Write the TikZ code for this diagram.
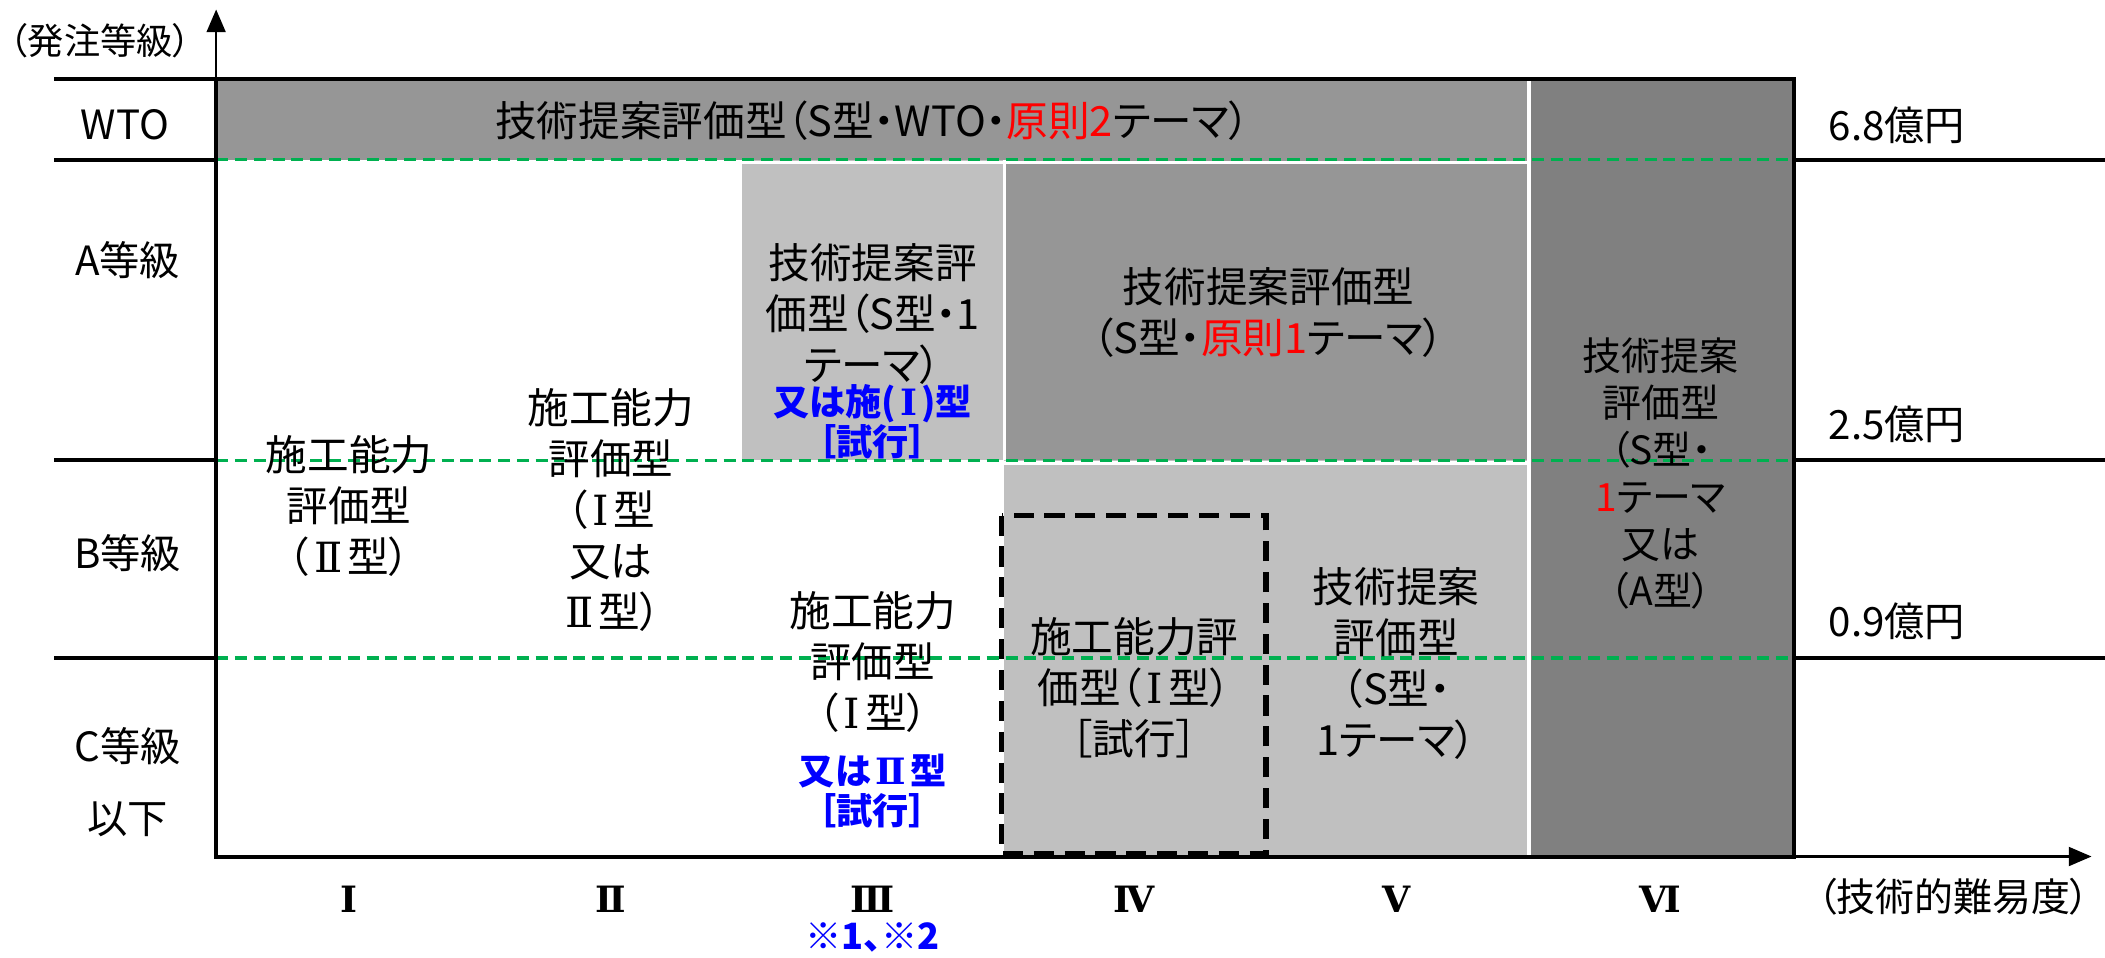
\documentclass[tikz,border=0pt]{standalone}
\usepackage{fontspec}
\setmainfont{Noto Sans CJK JP}[RawFeature=+palt]
\newfontfamily\romanfont{DejaVu Serif}
\newcommand{\rn}[1]{\hspace{0.12em}{\romanfont #1}\hspace{0.12em}}
\usetikzlibrary{arrows.meta}
\definecolor{gmid}{HTML}{969696}
\definecolor{glight}{HTML}{C0C0C0}
\definecolor{gdark}{HTML}{808080}
\definecolor{dgreen}{HTML}{00B050}
\definecolor{bl}{HTML}{0000FF}
\definecolor{rd}{HTML}{FF0000}
\begin{document}
\begin{tikzpicture}[x=1pt,y=-1pt,
  txt/.style={font=\fontsize{31}{38}\selectfont, align=center, inner sep=0pt},
  txtsix/.style={font=\fontsize{29}{35}\selectfont, align=center, inner sep=0pt},
  bt/.style={font=\bfseries\fontsize{27}{30}\selectfont, text=bl, align=center, inner sep=0pt},
  lbl/.style={font=\fontsize{30}{36}\selectfont, inner sep=0pt},
  numlbl/.style={font=\romanfont\bfseries\fontsize{27}{30}\selectfont, inner sep=0pt},
  frame/.style={line width=3pt, line cap=rect},
  axisline/.style={line width=2pt, -{Triangle[length=17pt,width=14pt]}},
  gdash/.style={draw=dgreen, line width=2.5pt, dash pattern=on 9pt off 5pt},
  sep/.style={draw=white, line width=2.5pt},
  trial/.style={draw=black, line width=4pt, dash pattern=on 15pt off 8pt}
]
\useasboundingbox (0,0) rectangle (1568,713);
% fills
\fill[gmid]   (161,59)  rectangle (1139,119);
\fill[glight] (553,119) rectangle (748,343);
\fill[gmid]   (748,119) rectangle (1139,343);
\fill[glight] (748,343) rectangle (1139,638);
\fill[gdark]  (1139,59) rectangle (1336,638);
% white separators
\draw[sep] (1139,59) -- (1139,638);
\draw[sep] (748,119) -- (748,343);
\draw[sep] (161,121) -- (1139,121);
\draw[sep] (553,345) -- (1139,345);
% green dashed level lines
\draw[gdash] (161,119) -- (1336,119);
\draw[gdash] (161,343) -- (1336,343);
\draw[gdash] (161,490) -- (1336,490);
% trial box
\draw[trial] (746,384) rectangle (943,636);
% frame and row lines
\draw[frame] (42,59) -- (1336,59) -- (1336,638);
\draw[frame] (161,638) -- (1336,638);
\draw[frame] (161,59) -- (161,638);
\draw[frame] (42,119) -- (161,119);
\draw[frame] (42,343) -- (161,343);
\draw[frame] (42,490) -- (161,490);
\draw[frame] (1336,119) -- (1568,119);
\draw[frame] (1336,343) -- (1568,343);
\draw[frame] (1336,490) -- (1568,490);
% axes
\coordinate (O) at (161,638);
\coordinate (ytip) at (161,7);
\coordinate (xtip) at (1558,638);
\draw[axisline] (O) -- (ytip);
\draw[axisline] (O) -- (xtip);
% axis titles
\node[lbl, font=\fontsize{27}{30}\selectfont, anchor=west] (ytitle) at (7,30) {（発注等級）};
\node[lbl, font=\fontsize{29}{30}\selectfont] (xtitle) at (1455,668) {（技術的難易度）};
% row labels
\node[lbl] (rwto) at (93,93) {WTO};
\node[lbl] (ra) at (95,194) {A等級};
\node[lbl] (rb) at (95,412) {B等級};
\node[lbl] (rc) at (95,556) {C等級};
\node[lbl] (rc2) at (95,610) {以下};
% amount labels
\node[lbl, anchor=west] (m68) at (1362,93) {6.8億円};
\node[lbl, anchor=west] (m25) at (1362,316) {2.5億円};
\node[lbl, anchor=west] (m09) at (1362,463) {0.9億円};
% column labels
\node[numlbl] (c1) at (260,670) {Ⅰ};
\node[numlbl] (c2) at (455,670) {Ⅱ};
\node[numlbl] (c3) at (650,670) {Ⅲ};
\node[numlbl] (c4) at (845,670) {Ⅳ};
\node[numlbl] (c5) at (1040,670) {Ⅴ};
\node[numlbl] (c6) at (1237,670) {Ⅵ};
\node[bt] (note) at (650,698) {※1、※2};
% cell texts
\node[txt] (twto) at (650,90) {技術提案評価型（S型・WTO・{\color{rd}原則2}テーマ）};
\node[txt] (t3a) at (650,234) {技術提案評\\価型（S型・1\\テーマ）};
\node[bt] (t3ab) at (650,314) {又は施(\rn{Ⅰ})型\\［試行］};
\node[txt] (t45a) at (945,233) {技術提案評価型\\（S型・{\color{rd}原則1}テーマ）};
\node[txtsix] (t6) at (1237,353) {技術提案\\評価型\\（S型・\\{\color{rd}1}テーマ\\又は\\（A型）};
\node[txt] (t1) at (260,377) {施工能力\\評価型\\（\rn{Ⅱ}型）};
\node[txt] (t2) at (455,380) {施工能力\\評価型\\（\rn{Ⅰ}型\\又は\\\rn{Ⅱ}型）};
\node[txt] (t3) at (650,493) {施工能力\\評価型\\（\rn{Ⅰ}型）};
\node[bt] (t3b) at (650,589) {又は\rn{Ⅱ}型\\［試行］};
\node[txt] (t4) at (845,512) {施工能力評\\価型（\rn{Ⅰ}型）\\［試行］};
\node[txt] (t5) at (1040,494) {技術提案\\評価型\\（S型・\\1テーマ）};
\end{tikzpicture}
\end{document}
